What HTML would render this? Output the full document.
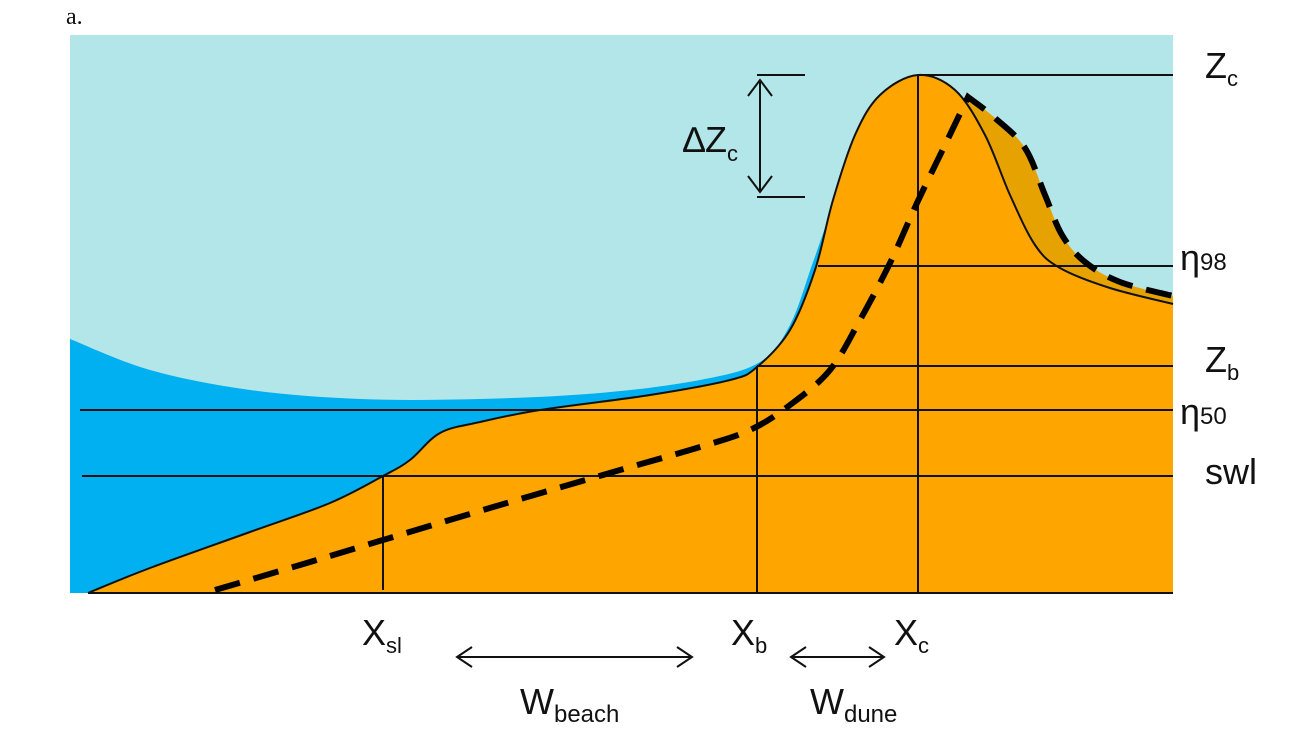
<!DOCTYPE html>
<html><head><meta charset="utf-8"><style>
html,body{margin:0;padding:0;background:#fff;}
svg{display:block;}
text{font-family:"Liberation Sans",sans-serif;fill:#111;}
</style></head><body>
<svg id="fig" width="1289" height="740" viewBox="0 0 1289 740">
<text x="66" y="24" style="font-family:'Liberation Serif',serif;font-size:24px">a.</text>
<rect x="70" y="35" width="1103" height="558" fill="#b3e6e9"/>
<path id="water" fill="#00b0f0"/>
<path id="dune2" fill="#e6a200"/>
<path id="profileFill" fill="#ffa500"/>
<path id="profile" fill="none" stroke="#111" stroke-width="2"/>
<g id="lines" stroke="#111" stroke-width="2" fill="none"></g>
<path id="dashed" fill="none" stroke="#000" stroke-width="6" stroke-dasharray="26,14"/>
<g stroke="#111" stroke-width="2" fill="none">
<path d="M760 80 V192 M748 96 L760 80 L772 96 M748 176 L760 192 L772 176"/>
<path d="M457 657 H692 M472 647 L457 657 L472 667 M677 647 L692 657 L677 667"/>
<path d="M791 657 H884 M806 647 L791 657 L806 667 M869 647 L884 657 L869 667"/>
</g>
<g font-size="36">
<text x="683" y="152">∆Z<tspan font-size="22" dy="9">c</tspan></text>
<text x="1205" y="78">Z<tspan font-size="22" dy="8">c</tspan></text>
<text x="1180" y="270">η<tspan font-size="24">98</tspan></text>
<text x="1205" y="372">Z<tspan font-size="22" dy="8">b</tspan></text>
<text x="1180" y="424">η<tspan font-size="24">50</tspan></text>
<text x="1205" y="484">swl</text>
<text x="362" y="645">X<tspan font-size="22" dy="8">sl</tspan></text>
<text x="731" y="645">X<tspan font-size="22" dy="8">b</tspan></text>
<text x="894" y="645">X<tspan font-size="22" dy="8">c</tspan></text>
<text x="520" y="714">W<tspan font-size="24" dy="8">beach</tspan></text>
<text x="810" y="714">W<tspan font-size="24" dy="8">dune</tspan></text>
</g>
</svg>
<script>
const profileX=[88,150,250,330,383,410,440,480,540,650,730,757,790,815,833,855,880,918,955,985,1010,1035,1060,1110,1173];
const profileY=[593,568,532,503,476,460,433,422,410,395,380,367,330,270,200,135,95,75,90,135,195,245,268,288,304];
const dashLeftX=[215,300,383,500,620,700,750,790,830,860,890,917,945,968];
const dashLeftY=[590,565,540,505,470,447,430,405,370,320,263,203,145,97];
const dashRightX=[968,995,1025,1045,1062,1085,1120,1173];
const dashRightY=[97,118,148,195,235,262,282,296];
const waterX=[70,150,250,360,480,600,700,760,790,812,826];
const waterY=[339,370,390,399,399,393,380,362,325,265,225];
function smooth(xs,ys){let d='M'+xs[0]+' '+ys[0];for(let i=1;i<xs.length;i++){const x0=xs[Math.max(i-2,0)],y0=ys[Math.max(i-2,0)],x1=xs[i-1],y1=ys[i-1],x2=xs[i],y2=ys[i],x3=xs[Math.min(i+1,xs.length-1)],y3=ys[Math.min(i+1,xs.length-1)];d+=' C'+(x1+(x2-x0)/6)+' '+(y1+(y2-y0)/6)+' '+(x2-(x3-x1)/6)+' '+(y2-(y3-y1)/6)+' '+x2+' '+y2;}return d;}
const pd=smooth(profileX,profileY);
document.getElementById('profile').setAttribute('d',pd);
document.getElementById('profileFill').setAttribute('d',pd+' L1173 593 L88 593 Z');
const rightPath=smooth(dashRightX,dashRightY);
document.getElementById('dashed').setAttribute('d',smooth(dashLeftX,dashLeftY)+' L'+rightPath.slice(1));
document.getElementById('dune2').setAttribute('d',rightPath+' L1173 593 L960 593 Z');
document.getElementById('water').setAttribute('d',smooth(waterX,waterY)+' L850 593 L70 593 Z');
const lines=[[918,75,1173,75],[757,75,805,75],[757,197,805,197],[818,266,1173,266],[757,366,1173,366],[80,410,1173,410],[82,476,1173,476],[383,476,383,590],[757,366,757,593],[918,75,918,593],[88,593,1173,593]];
const g=document.getElementById('lines');
lines.forEach(l=>{const e=document.createElementNS('http://www.w3.org/2000/svg','line');
e.setAttribute('x1',l[0]);e.setAttribute('y1',l[1]);e.setAttribute('x2',l[2]);e.setAttribute('y2',l[3]);


g.appendChild(e);});
</script>
</body></html>
